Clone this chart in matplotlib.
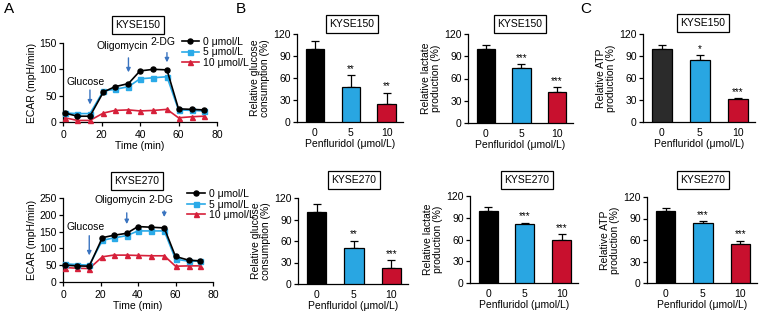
import matplotlib
matplotlib.use("Agg")
import matplotlib.pyplot as plt
import numpy as np

plt.rcParams['font.family'] = ['Liberation Sans', 'DejaVu Sans']
plt.rcParams['font.size'] = 7

W, H = 761, 314

# ---------------- data ----------------
time_min = [1, 7.5, 14, 21, 27, 34, 40, 47, 54, 60, 67, 73]
doses_lbl = ["0 μmol/L", "5 μmol/L", "10 μmol/L"]

ecar150_0 = [17, 11, 11, 57, 67, 73, 97, 100, 99, 25, 24, 23]
ecar150_5 = [17, 16, 16, 59, 62, 67, 82, 84, 86, 23, 22, 21]
ecar150_10 = [8, 3, 3, 17, 22, 23, 21, 22, 24, 8, 10, 11]

ecar270_0 = [50, 48, 47, 132, 139, 145, 165, 163, 161, 76, 65, 63]
ecar270_5 = [54, 52, 50, 124, 131, 138, 152, 152, 152, 68, 62, 62]
ecar270_10 = [43, 41, 40, 75, 80, 80, 79, 78, 78, 47, 48, 48]

bar_cats = ["0", "5", "10"]
glu150 = [100, 48, 25]; glu150_err = [10, 16, 15]; glu150_sig = ["", "**", "**"]
lac150 = [100, 74, 42]; lac150_err = [5, 5, 6]; lac150_sig = ["", "***", "***"]
atp150 = [100, 85, 31]; atp150_err = [5, 6, 1.5]; atp150_sig = ["", "*", "***"]
glu270 = [100, 50, 22]; glu270_err = [12, 10, 11]; glu270_sig = ["", "**", "***"]
lac270 = [100, 81, 60]; lac270_err = [5, 2, 7]; lac270_sig = ["", "***", "***"]
atp270 = [100, 84, 55]; atp270_err = [4, 2, 4]; atp270_sig = ["", "***", "***"]

# ---------------- style ----------------
BLACK = "#000000"
BLUE = "#29a6e2"
RED = "#c8102e"
LBLUE = "#2aaae8"
LRED = "#d6203a"
ARROW = "#3a74c0"

fig = plt.figure(figsize=(W / 100, H / 100), dpi=100)


def rect(l, t, r, b):
    return [l / W, 1 - b / H, (r - l) / W, (b - t) / H]


def style(ax):
    for s in ["top", "right"]:
        ax.spines[s].set_visible(False)
    for s in ["left", "bottom"]:
        ax.spines[s].set_linewidth(0.9)
    ax.tick_params(width=0.9, length=3, pad=1.5, labelsize=7.5)


def boxtitle(x, y, txt):
    fig.text(x / W, 1 - y / H, txt, ha="center", va="center", fontsize=7.5,
             bbox=dict(boxstyle="square,pad=0.35", fc="white", ec="black", lw=0.9))


def line_panel(rc, ylim, yticks, d0, d5, d10, arrows, leg_anchor, xmax=80):
    ax = fig.add_axes(rect(*rc))
    style(ax)
    ax.plot(time_min, d0, color=BLACK, marker="o", ms=3.6, lw=1.2, label=doses_lbl[0], clip_on=False, zorder=5)
    ax.plot(time_min, d5, color=LBLUE, marker="s", ms=3.6, lw=1.2, label=doses_lbl[1], clip_on=False, zorder=4)
    ax.plot(time_min, d10, color=LRED, marker="^", ms=3.6, lw=1.2, label=doses_lbl[2], clip_on=False, zorder=3)
    ax.set_xlim(0, xmax)
    ax.set_ylim(*ylim)
    ax.set_yticks(yticks)
    ax.set_xticks([0, 20, 40, 60, 80])
    ax.tick_params(axis="x", pad=2.5)
    ax.set_xlabel("Time (min)", fontsize=7.5, labelpad=1)
    ax.set_ylabel("ECAR (mpH/min)", fontsize=7.5, labelpad=2)
    for (label, lx, ty, ax0, ay0, ay1) in arrows:
        ax.annotate("", xy=(ax0, ay1), xytext=(ax0, ay0),
                    arrowprops=dict(arrowstyle="-|>", color=ARROW, lw=1.0, mutation_scale=6))
        ax.text(lx, ty, label, ha="center", va="center", fontsize=7.5)
    ax.legend(loc="upper left", bbox_to_anchor=leg_anchor, frameon=False, fontsize=7.5,
              handlelength=1.7, handletextpad=0.4, labelspacing=0.05, borderaxespad=0,
              borderpad=0)
    return ax


# ---------------- Panel A ----------------
line_panel((63, 43, 217, 122), (0, 150), [0, 50, 100, 150],
           ecar150_0, ecar150_5, ecar150_10,
           [("Glucose", 12, 76, 14, 66, 28),
            ("Oligomycin", 30.6, 144, 34, 127, 89),
            ("2-DG", 52, 152, 54, 137, 108)],
           (0.77, 1.08))
line_panel((63, 198, 213, 282), (0, 250), [0, 50, 100, 150, 200, 250],
           ecar270_0, ecar270_5, ecar270_10,
           [("Glucose", 12, 164, 14, 146, 71),
            ("Oligomycin", 30.6, 244, 34, 214, 164),
            ("2-DG", 52, 244, 54, 220, 185)],
           (0.827, 1.107))
boxtitle(138, 25, "KYSE150")
boxtitle(137, 181, "KYSE270")


# ---------------- bar panels ----------------
def bar_panel(rc, vals, errs, sigs, ylabel, first_color=BLACK):
    ax = fig.add_axes(rect(*rc))
    style(ax)
    x = np.arange(len(vals))
    colors = [first_color, BLUE, RED]
    ax.bar(x, vals, width=0.52, color=colors, edgecolor="black", linewidth=0.9, zorder=3)
    ax.errorbar(x, vals, yerr=[np.zeros(len(errs)), errs], fmt="none", ecolor="black",
                elinewidth=0.9, capsize=3, capthick=0.9, zorder=2)
    for xi, v, e, s in zip(x, vals, errs, sigs):
        if s:
            ax.text(xi, v + e + 2, s, ha="center", va="bottom", fontsize=7)
    ax.set_xlim(-0.5, 2.45)
    ax.set_ylim(0, 120)
    ax.set_yticks([0, 30, 60, 90, 120])
    ax.set_xticks(x)
    ax.set_xticklabels(bar_cats)
    ax.tick_params(axis="x", length=0, pad=4)
    ax.set_xlabel("Penfluridol (μmol/L)", fontsize=7.5, labelpad=1)
    ax.set_ylabel(ylabel, fontsize=7.5, labelpad=2, linespacing=1.0)
    return ax


bar_panel((297, 34, 403, 122), glu150, glu150_err, glu150_sig, "Relative glucose\nconsumption (%)")
bar_panel((468, 34, 573, 123), lac150, lac150_err, lac150_sig, "Relative lactate\nproduction (%)")
bar_panel((643, 34, 755, 122), atp150, atp150_err, atp150_sig, "Relative ATP\nproduction (%)", first_color="#2b2b2b")
bar_panel((298, 198, 408, 284), glu270, glu270_err, glu270_sig, "Relative glucose\nconsumption (%)")
bar_panel((470, 196, 578, 283), lac270, lac270_err, lac270_sig, "Relative lactate\nproduction (%)")
bar_panel((647, 197, 757, 283), atp270, atp270_err, atp270_sig, "Relative ATP\nproduction (%)")

boxtitle(352, 24, "KYSE150")
boxtitle(520, 24, "KYSE150")
boxtitle(703, 23, "KYSE150")
boxtitle(354, 180, "KYSE270")
boxtitle(527, 180, "KYSE270")
boxtitle(703, 180, "KYSE270")

# panel letters
for x, lab in [(4, "A"), (236, "B"), (580, "C")]:
    fig.text(x / W, 1 - 2 / H, lab, ha="left", va="top", fontsize=11)

fig.savefig("out.png", dpi=100)
